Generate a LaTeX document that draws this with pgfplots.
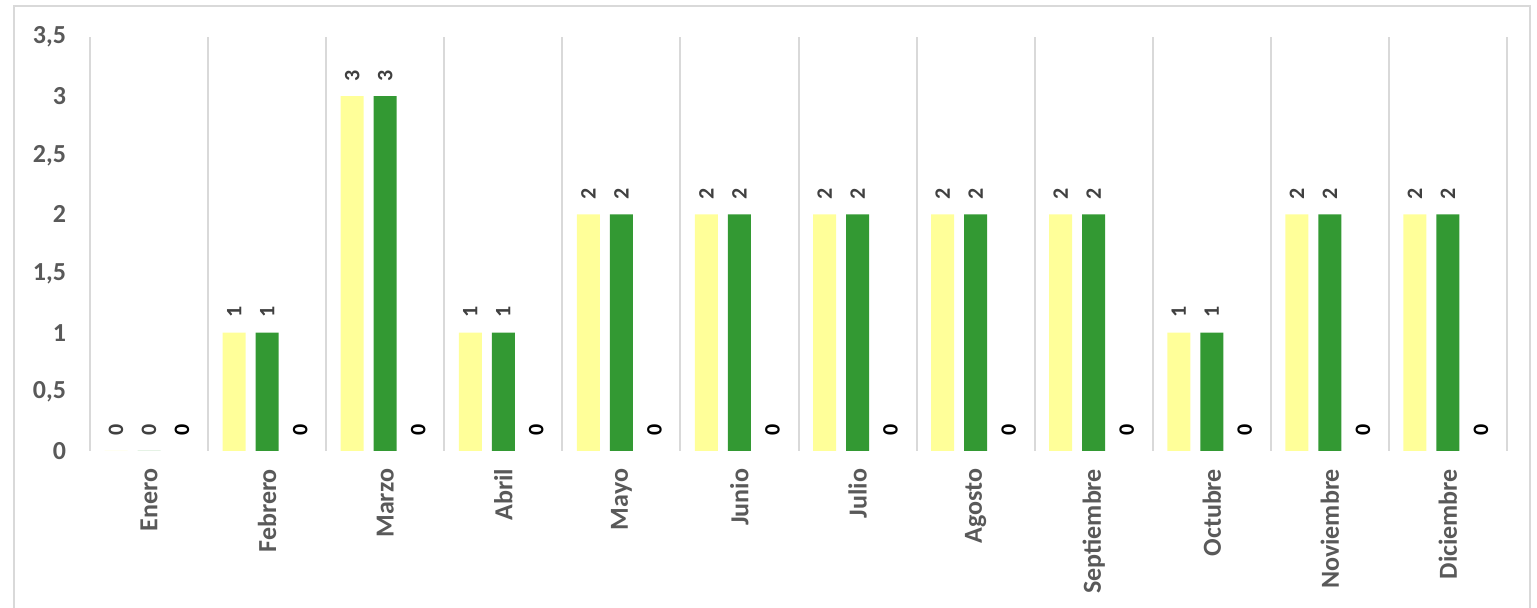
\documentclass[border=0pt]{standalone}
\usepackage{fontspec}
\setmainfont{Carlito}
\usepackage{pgfplots}
\pgfplotsset{compat=1.18}
\definecolor{barY}{HTML}{FFFF99}
\definecolor{barG}{HTML}{339933}
\definecolor{gridc}{HTML}{D9D9D9}
\definecolor{txt}{HTML}{595959}
\definecolor{lab}{HTML}{404040}
\pgfplotstableread{
x a b c
0 0 0 0
1 1 1 0
2 3 3 0
3 1 1 0
4 2 2 0
5 2 2 0
6 2 2 0
7 2 2 0
8 2 2 0
9 1 1 0
10 2 2 0
11 2 2 0
}\datatab
\begin{document}
\begin{tikzpicture}
\path[use as bounding box] (0,0) rectangle (768.5pt,304pt);
\draw[gridc, line width=1pt] (7pt,-5pt) rectangle (765pt,301pt);
\begin{axis}[
  at={(45pt,78.5pt)}, anchor=south west,
  scale only axis, width=708.5pt, height=207pt,
  xmin=-0.5, xmax=11.5, ymin=0, ymax=3.5,
  enlargelimits=false,
  axis line style={draw=none},
  xtick={0,...,11},
  xticklabels={Enero,Febrero,Marzo,Abril,Mayo,Junio,Julio,Agosto,Septiembre,Octubre,Noviembre,Diciembre},
  ytick={0,0.5,1,1.5,2,2.5,3,3.5},
  yticklabels={0,{0,5},1,{1,5},2,{2,5},3,{3,5}},
  major tick length=0pt, minor tick length=0pt,
  minor xtick={-0.5,0.5,...,11.5},
  xminorgrids, minor x grid style={gridc, line width=1pt},
  ticklabel style={font=\bfseries\fontsize{13}{15}\selectfont, text=txt},
  xticklabel style={rotate=90, anchor=east, inner sep=0pt, outer sep=9pt},
  yticklabel style={anchor=east, inner sep=0pt, outer sep=12pt},
  ybar, bar width=11.5pt,
  nodes near coords={\pgfmathprintnumber[assume math mode=true]{\pgfplotspointmeta}},
  nodes near coords align={horizontal},
  every node near coord/.append style={rotate=90, anchor=west, inner sep=0pt, outer sep=7.5pt, font=\bfseries\fontsize{11}{13}\selectfont, text=lab},
]
\addplot[fill=barY, draw=none, bar shift=-16.5pt] table[x=x,y=a] {\datatab};
\addplot[fill=barG, draw=none, bar shift=0pt] table[x=x,y=b] {\datatab};
\addplot[draw=none, fill=none, bar shift=16.5pt, nodes near coords style={text=black}] table[x=x,y=c] {\datatab};
\end{axis}
\end{tikzpicture}
\end{document}
